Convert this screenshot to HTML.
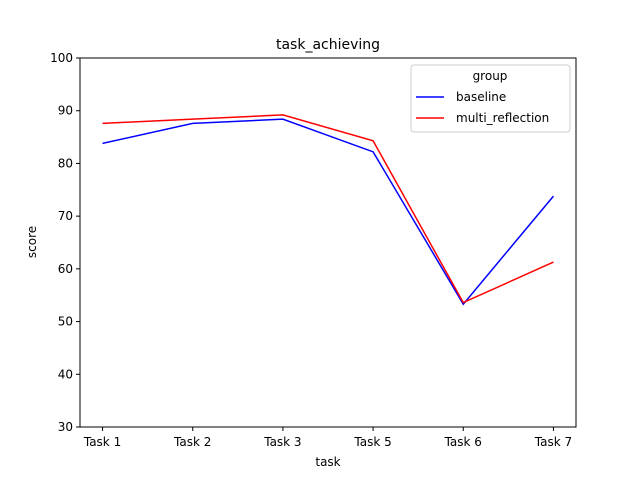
<!DOCTYPE html>
<html><head><meta charset="utf-8"><style>body{margin:0;background:#fff}svg text{font-family:"DejaVu Sans","Liberation Sans",sans-serif;fill:#000}</style></head>
<body>
<svg id="chart" width="640" height="480" xmlns="http://www.w3.org/2000/svg"></svg>
<script>
const categories=["Task 1","Task 2","Task 3","Task 5","Task 6","Task 7"];
const baseline=[83.8,87.6,88.4,82.2,53.3,73.8];
const multiReflection=[87.6,88.4,89.2,84.3,53.6,61.3];
const yTicks=[30,40,50,60,70,80,90,100];
const L=80,R=576,T=58,B=427;
const NS="http://www.w3.org/2000/svg";
const svg=document.getElementById('chart');
function x(i){return L+(i+0.25)/(categories.length-0.5)*(R-L);}
function y(v){return B-(v-30)/70*(B-T);}
function mk(tag,attrs,parent){const e=document.createElementNS(NS,tag);for(const k in attrs)e.setAttribute(k,attrs[k]);(parent||svg).appendChild(e);return e;}
const title=mk('text',{x:328,y:49,'text-anchor':'middle','font-size':14});title.textContent='task_achieving';


yTicks.forEach(v=>{mk('line',{x1:L-4,x2:L,y1:y(v),y2:y(v),stroke:'#000'});const t=mk('text',{x:L-7,y:y(v)+4,'text-anchor':'end','font-size':12});t.textContent=v;

});
categories.forEach((c,i)=>{mk('line',{x1:x(i),x2:x(i),y1:B,y2:B+4,stroke:'#000'});const t=mk('text',{x:x(i),y:B+19,'text-anchor':'middle','font-size':12});t.textContent=c;

});
const xt=mk('text',{x:328,y:466,'text-anchor':'middle','font-size':12});xt.textContent='task';


const yt=mk('text',{x:36,y:242,'text-anchor':'middle','font-size':12,transform:'rotate(-90 36 242)'});yt.textContent='score';


function line(vals,color,name){const p=mk('polyline',{points:vals.map((v,i)=>x(i)+','+y(v)).join(' '),fill:'none',stroke:color,'stroke-width':1.5});

}
line(baseline,'#0000ff','baseline-line');
line(multiReflection,'#ff0000','multi-reflection-line');
const frame=mk('rect',{x:L,y:T,width:R-L,height:B-T,fill:'none',stroke:'#000','stroke-width':1});


const lg=mk('g',{});


mk('rect',{x:411,y:65,width:159,height:67,rx:3,fill:'#fff',stroke:'#ccc'},lg);
const gt=mk('text',{x:490,y:80,'text-anchor':'middle','font-size':12},lg);gt.textContent='group';
mk('line',{x1:416,x2:444,y1:97,y2:97,stroke:'#0000ff','stroke-width':1.5},lg);
const t1=mk('text',{x:456,y:101,'font-size':12},lg);t1.textContent='baseline';
mk('line',{x1:416,x2:444,y1:118,y2:118,stroke:'#ff0000','stroke-width':1.5},lg);
const t2=mk('text',{x:456,y:122,'font-size':12},lg);t2.textContent='multi_reflection';
</script>
</body></html>
